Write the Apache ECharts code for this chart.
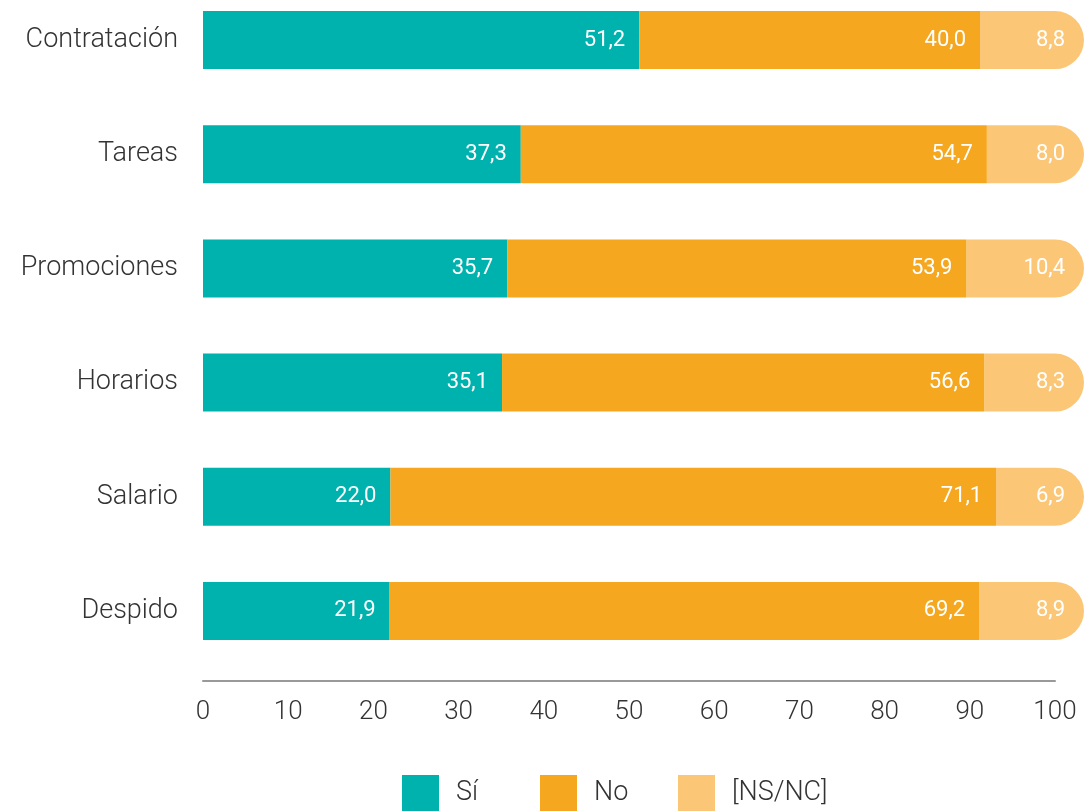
<!DOCTYPE html>
<html>
<head>
<meta charset="utf-8">
<script src="https://cdn.jsdelivr.net/npm/echarts@6/dist/echarts.min.js"></script>
<style>
html,body{margin:0;padding:0;background:#fff;}
#chart{width:1084px;height:811px;}
</style>
</head>
<body>
<div id="chart"></div>
<script>
var categories=['Contratación','Tareas','Promociones','Horarios','Salario','Despido'];
var seriesNames=['Sí','No','[NS/NC]'];
var si=[51.2,37.3,35.7,35.1,22.0,21.9];
var no=[40.0,54.7,53.9,56.6,71.1,69.2];
var nsnc=[8.8,8.0,10.4,8.3,6.9,8.9];

var TEAL='#00b2ae', ORANGE='#f5a71f', LIGHT='#fbc777';
var FONT='Roboto, "Helvetica Neue", Arial, sans-serif';
var TXT='#333';

function fmt(v){return v.toFixed(1).replace('.',',');}

// datos del tramo final: [inicio, fin, indice, valor]
var lastData=categories.map(function(c,i){
	return [si[i]+no[i], si[i]+no[i]+nsnc[i], i, nsnc[i]];
});

var myChart=echarts.init(document.getElementById('chart'));

var valueLabel={
	show:true,
	position:'insideRight',
	distance:14,
	color:'#fff',
	fontSize:22,
	fontFamily:FONT,
	formatter:function(p){return fmt(p.value);}
};

// una leyenda por elemento para fijar su posicion
var legendLeft=[402,540,678];
var legends=seriesNames.map(function(n,i){
	return {
		left:legendLeft[i],
		top:775,
		padding:0,
		itemWidth:37,
		itemHeight:37,
		icon:'rect',
		selectedMode:false,
		textStyle:{fontSize:27,fontWeight:300,color:TXT,fontFamily:FONT,padding:[5,0,0,12]},
		data:[n]
	};
});

var option={
	animation:false,
	grid:{left:203,right:29,top:-17,height:685,outerBoundsMode:'none'},
	legend:legends,
	xAxis:{
		type:'value',
		min:0,max:100,interval:10,
		offset:13,
		axisLine:{show:true,lineStyle:{color:'#999',width:2}},
		axisTick:{show:false},
		splitLine:{show:false},
		axisLabel:{fontSize:26,fontWeight:300,color:TXT,fontFamily:FONT,margin:18}
	},
	yAxis:{
		type:'category',
		inverse:true,
		data:categories,
		axisLine:{show:false},
		axisTick:{show:false},
		axisLabel:{fontSize:27,fontWeight:300,color:TXT,fontFamily:FONT,margin:25,padding:[8,0,0,0]}
	},
	series:[{
		name:seriesNames[0],type:'bar',stack:'t',barWidth:58,
		itemStyle:{color:TEAL},
		label:valueLabel,
		data:si
	},{
		name:seriesNames[1],type:'bar',stack:'t',barWidth:58,
		itemStyle:{color:ORANGE},
		label:valueLabel,
		data:no
	},{
		name:seriesNames[2],type:'custom',
		itemStyle:{color:LIGHT},
		encode:{x:[0,1],y:2},
		renderItem:function(params,api){
			var s=api.coord([api.value(0),api.value(2)]);
			var e=api.coord([api.value(1),api.value(2)]);
			var h=58, r=h/2;
			var w=e[0]-s[0]+r;
			return {
				type:'group',
				children:[{
					type:'rect',
					shape:{x:s[0],y:s[1]-r,width:w,height:h,r:[0,r,r,0]},
					style:{fill:LIGHT}
				},{
					type:'text',
					style:{
						text:fmt(api.value(3)),
						x:s[0]+w-19,y:s[1],
						align:'right',verticalAlign:'middle',
						fill:'#fff',fontSize:22,fontFamily:FONT
					}
				}]
			};
		},
		data:lastData
	}]
};
myChart.setOption(option);
</script>
</body>
</html>
